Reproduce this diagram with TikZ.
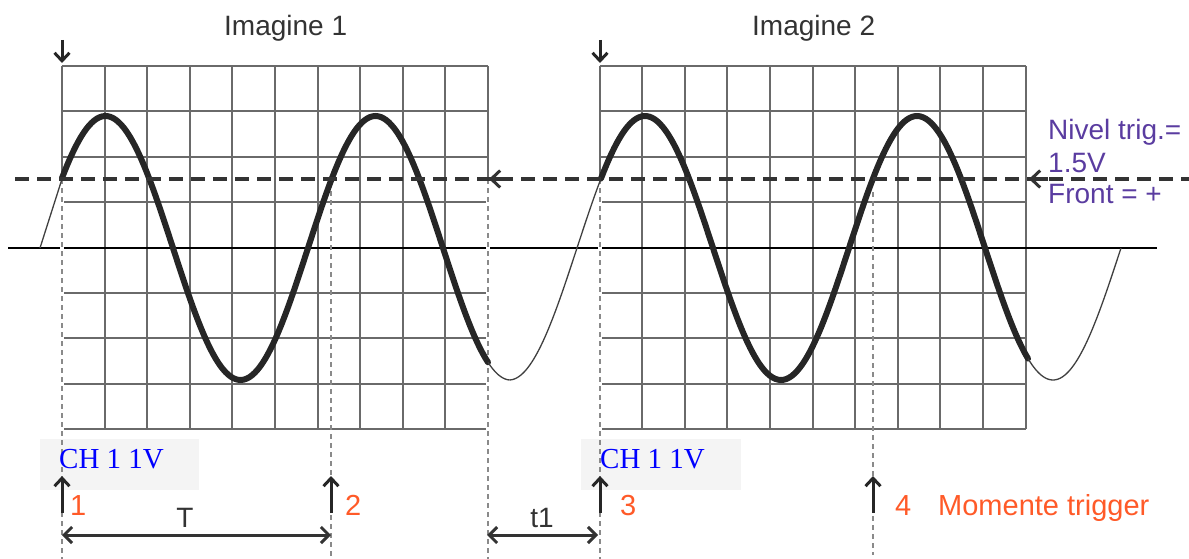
\documentclass[tikz,border=0pt]{standalone}
\usepackage{fontspec}
\setmainfont{Liberation Sans}
\newfontfamily\tms{Liberation Serif}
\usetikzlibrary{arrows.meta}
\definecolor{gridc}{HTML}{6A6A6A}
\definecolor{orng}{HTML}{FF5A28}
\definecolor{purp}{HTML}{5A3CA0}
\definecolor{chbg}{HTML}{F4F4F4}
\definecolor{txt}{HTML}{333333}
\definecolor{vdash}{HTML}{8A8A8A}
\tikzset{
  gridline/.style={draw=gridc, line width=2pt},
  levelline/.style={draw=txt, line width=3.2pt, dash pattern=on 14pt off 8pt},
  markline/.style={draw=vdash, line width=1.8pt, dash pattern=on 5pt off 4pt},
  trigarrow/.style={draw=black!85, line width=3pt, -{Straight Barb[length=8pt,width=15pt,line width=3pt]}},
  dimarrow/.style={draw=black!80, line width=3pt, {Straight Barb[length=8pt,width=16pt,line width=3pt]}-{Straight Barb[length=8pt,width=16pt,line width=3pt]}},
  lbl/.style={inner sep=0pt, anchor=base west, font=\fontsize{28}{30}\selectfont},
  numlbl/.style={lbl, text=orng, font=\fontsize{29}{30}\selectfont},
  chbox/.style={fill=chbg, draw=none},
  thick wave/.style={line width=6pt, black!85, line cap=round},
  thin wave/.style={line width=1.3pt, black!75},
}
\begin{document}
\begin{tikzpicture}[x=1pt, y=-1pt]
\useasboundingbox (0,0) rectangle (1189,559);
% grids
\foreach \gx in {62,599.5} {
  \foreach \k in {0,...,10} \draw[gridline] (\gx+42.6*\k,66) -- (\gx+42.6*\k,429);
  \foreach \k in {0,...,8} \draw[gridline] (\gx,66+45.375*\k) -- (\gx+426,66+45.375*\k);
}
% zero axis
\draw[line width=2.8pt, black] (8,248) -- (1157,248);
% CH boxes
\fill[chbox] (40,439) rectangle (199,490);
\fill[chbox] (581,439) rectangle (741,490);
% vertical dashed markers
\coordinate (m1t) at (62,179);  \coordinate (m1b) at (62,559);
\coordinate (m2t) at (331,182); \coordinate (m2b) at (331,559);
\coordinate (m3t) at (488,179); \coordinate (m3b) at (488,559);
\coordinate (m4t) at (600,179); \coordinate (m4b) at (600,559);
\coordinate (m5t) at (873,192); \coordinate (m5b) at (873,555);
\fill[white] (60,181) rectangle (64,430);
\fill[white] (486,181) rectangle (490,430);
\fill[white] (598,181) rectangle (602,430);
\foreach \m in {1,...,5} \draw[markline] (m\m t) -- (m\m b);
% waves
\draw[thin wave] (40,248) -- (62,179);
\draw[thick wave] plot[domain=62:488, samples=160, smooth] (\x,{248-132*sin(1.33333*(\x-38))});
\draw[thin wave] plot[domain=488:509.5, samples=20, smooth] (\x,{248-132*sin(1.33333*(\x-38))});
\draw[thin wave] plot[domain=509.5:601, samples=50, smooth] (\x,{248-132*sin(1.32353*(\x-577))});
\draw[thick wave] plot[domain=601:1028, samples=160, smooth] (\x,{248-132*sin(1.32353*(\x-577))});
\draw[thin wave] plot[domain=1028:1121, samples=50, smooth] (\x,{248-132*sin(1.32353*(\x-577))});
% trigger level line
\draw[levelline] (15,179) -- (1189,179);
\coordinate (la1s) at (508,179); \coordinate (la1e) at (489,179);
\coordinate (la2s) at (1048,179); \coordinate (la2e) at (1029,179);
\draw[draw=txt, line width=3pt, -{Straight Barb[length=9pt,width=17pt,line width=3pt]}] (la1s) -- (la1e);
\draw[draw=txt, line width=3pt, -{Straight Barb[length=9pt,width=17pt,line width=3pt]}] (la2s) -- (la2e);
% top arrows
\coordinate (d1s) at (62,40); \coordinate (d1e) at (62,63);
\coordinate (d2s) at (600,40); \coordinate (d2e) at (600,63);
\draw[trigarrow] (d1s) -- (d1e);
\draw[trigarrow] (d2s) -- (d2e);
% trigger arrows
\foreach \n/\xx in {1/62,2/331,3/600,4/873} {
  \coordinate (ta\n s) at (\xx,513);
  \coordinate (ta\n e) at (\xx,476);
  \draw[trigarrow] (ta\n s) -- (ta\n e);
}
% dimension arrows
\coordinate (Ta) at (62,535); \coordinate (Tb) at (331,535);
\coordinate (ta) at (487,535); \coordinate (tb) at (598,535);
\draw[dimarrow] (Ta) -- (Tb);
\draw[dimarrow] (ta) -- (tb);
\node[lbl, text=txt, anchor=base] (Tl) at (185,527) {T};
\node[lbl, text=txt, anchor=base] (t1l) at (542,527) {t1};
% titles
\node[lbl, text=txt] (im1) at (224,36) {Imagine 1};
\node[lbl, text=txt] (im2) at (752,36) {Imagine 2};
% CH labels
\node[lbl, text=blue, font=\tms\fontsize{29}{30}\selectfont] (ch1) at (59,468) {CH 1 1V};
\node[lbl, text=blue, font=\tms\fontsize{29}{30}\selectfont] (ch2) at (600,468) {CH 1 1V};
% numbers
\node[numlbl] (n1) at (70,515) {1};
\node[numlbl] (n2) at (345,515) {2};
\node[numlbl] (n3) at (620,515) {3};
\node[numlbl] (n4) at (895,515) {4};
\node[numlbl] (mt) at (938,515) {Momente trigger};
% trigger level text
\node[lbl, text=purp] (nv1) at (1048,140) {Nivel trig.=};
\node[lbl, text=purp] (nv2) at (1048,172) {1.5V};
\node[lbl, text=purp] (nv3) at (1048,203) {Front = +};
\end{tikzpicture}
\end{document}
